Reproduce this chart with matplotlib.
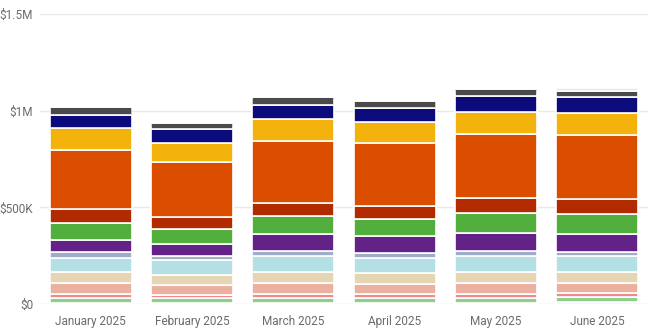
import matplotlib
matplotlib.use("Agg")
import matplotlib.pyplot as plt
from matplotlib.patches import FancyBboxPatch
from matplotlib.transforms import IdentityTransform
import numpy as np

months = ["January 2025", "February 2025", "March 2025", "April 2025", "May 2025", "June 2025"]

# series from bottom to top (values in dollars)
lavender   = [5000, 4000, 5000, 5000, 5000, 10000]
lightgreen = [26000, 26000, 28000, 25000, 28000, 28000]
pink       = [21000, 18000, 19000, 20000, 19000, 17000]
salmon     = [55000, 50000, 57000, 55000, 57000, 55000]
tan        = [60000, 52000, 58000, 57000, 57000, 56000]
lightblue  = [73000, 76000, 83000, 78000, 84000, 83000]
grayblue   = [27000, 23000, 25000, 26000, 25000, 22000]
purple     = [66000, 60000, 86000, 85000, 93000, 90000]
green      = [87000, 81000, 93000, 91000, 104000, 107000]
darkred    = [70000, 62000, 71000, 67000, 76000, 76000]
orange     = [308000, 280000, 316000, 322000, 331000, 330000]
gold       = [114000, 102000, 114000, 108000, 116000, 116000]
navy       = [67000, 71000, 76000, 75000, 81000, 83000]
darkgray   = [42000, 33000, 40000, 38000, 38000, 31000]
lightgray  = [0, 0, 0, 0, 0, 15000]

series = [lavender, lightgreen, pink, salmon, tan, lightblue, grayblue, purple,
          green, darkred, orange, gold, navy, darkgray, lightgray]
colors = ["#d9b6ee", "#8fcf8a", "#ee8a8e", "#eab1a1", "#e5d5b3", "#b4dfe5", "#9fadcb",
          "#632287", "#52ae3d", "#b12a00", "#db4e00", "#f4b20d", "#0b0b7b", "#4a4a4a", "#e6e6e6"]

yticks = [0, 500000, 1000000, 1500000]
ytick_labels = ["$0", "$500K", "$1M", "$1.5M"]

plt.rcParams['font.family'] = ['Roboto', 'DejaVu Sans']

fig = plt.figure(figsize=(6.7, 3.35), dpi=100)
ax = fig.add_axes([40 / 670, 1 - 304 / 335, 608 / 670, 290 / 335])

x = np.arange(len(months))
width = 0.81
bottom = np.zeros(len(months))
top_rects = [None] * len(months)
for vals, c in zip(series, colors):
    v = np.array(vals, dtype=float)
    bars = ax.bar(x, v, width, bottom=bottom, color=c, edgecolor="white",
                  linewidth=1.2, zorder=3)
    for i, r in enumerate(bars):
        if v[i] > 0:
            top_rects[i] = r
    bottom += v

ax.set_xlim(-0.5, len(months) - 0.5)
ax.set_ylim(0, 1500000)
ax.set_yticks(yticks)
ax.set_yticklabels(ytick_labels)
ax.set_xticks(x)
ax.set_xticklabels(months)
ax.grid(axis="y", color="#e9e9e9", linewidth=1, zorder=0)
for s in ax.spines.values():
    s.set_visible(False)
ax.tick_params(axis="both", length=0, colors="#6b6b6b", labelsize=8.5)
ax.tick_params(axis="y", pad=5)
ax.tick_params(axis="x", pad=8)

# rounded top corners for topmost segment of each bar
fig.canvas.draw()
rad = 4
for r in top_rects:
    bb = r.get_window_extent()
    clip = FancyBboxPatch((bb.x0, bb.y0 - 20), bb.width, bb.height + 20,
                          boxstyle=f"round,pad=0,rounding_size={rad}",
                          facecolor="none", edgecolor="none")
    clip.set_transform(IdentityTransform())
    r.set_clip_path(clip)

fig.savefig("out.png", dpi=100)
